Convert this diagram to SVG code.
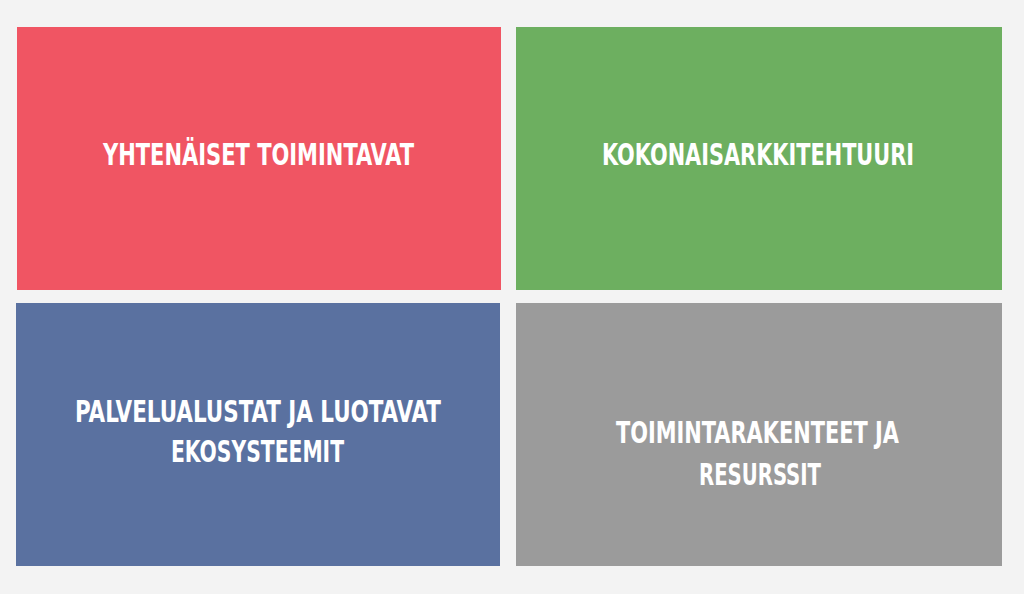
<svg xmlns="http://www.w3.org/2000/svg" width="1024" height="594" viewBox="0 0 1024 594">
<style>
.lbl{font-family:"DejaVu Sans Condensed","DejaVu Sans","Liberation Sans",sans-serif;font-weight:bold;font-size:30px;fill:#ffffff;text-anchor:middle}
</style>
<rect width="1024" height="594" fill="#f3f3f3"/>
<g id="node-yhtenaiset">
<rect x="17" y="27" width="484" height="263" fill="#f05563"/>
<text class="lbl" x="258.5" y="165" textLength="311" lengthAdjust="spacingAndGlyphs">YHTENÄISET TOIMINTAVAT</text>
</g>
<g id="node-kokonaisarkkitehtuuri">
<rect x="516" y="27" width="486" height="263" fill="#6daf60"/>
<text class="lbl" x="758" y="165" textLength="312" lengthAdjust="spacingAndGlyphs">KOKONAISARKKITEHTUURI</text>
</g>
<g id="node-palvelualustat">
<rect x="16" y="303" width="484" height="263" fill="#5a71a0"/>
<text class="lbl" x="258" y="422" textLength="366" lengthAdjust="spacingAndGlyphs">PALVELUALUSTAT JA LUOTAVAT</text>
<text class="lbl" x="257.5" y="462" textLength="173" lengthAdjust="spacingAndGlyphs">EKOSYSTEEMIT</text>
</g>
<g id="node-toimintarakenteet">
<rect x="516" y="303" width="486" height="263" fill="#9b9b9b"/>
<text class="lbl" x="757.5" y="443" textLength="283" lengthAdjust="spacingAndGlyphs">TOIMINTARAKENTEET JA</text>
<text class="lbl" x="760" y="485" textLength="122" lengthAdjust="spacingAndGlyphs">RESURSSIT</text>
</g>
<g id="connectors"/>
</svg>
